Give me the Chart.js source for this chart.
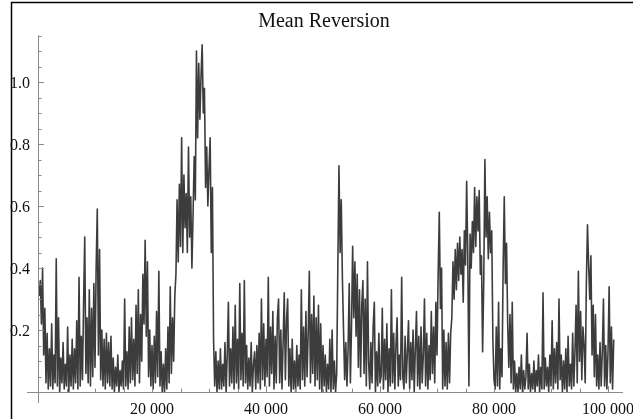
<!DOCTYPE html>
<html>
<head>
<meta charset="utf-8">
<title>Mean Reversion</title>
<script src="https://cdn.jsdelivr.net/npm/chart.js@4.4.0/dist/chart.umd.min.js"></script>
<style>
    html, body { margin: 0; padding: 0; background: #fff; }
    #wrap { position: relative; width: 633px; height: 419px; }
</style>
</head>
<body>
<div id="wrap"><canvas id="mr_chart" width="633" height="419"></canvas></div>
<script>
// sample spacing along the x axis (one value every 200 steps)
var sampleStep = 200;

// values, low / high swings of the series
var meanRev = [
    0.31, 0.36, 0.22, 0.40, 0.12, 0.27, 0.03, 0.19, 0.01, 0.14,
    0.02, 0.22, 0.01, 0.12, 0.03, 0.43, 0.02, 0.24, 0.00, 0.11,
    0.03, 0.16, 0.01, 0.09, 0.02, 0.21, 0.00, 0.12, 0.02, 0.17,
    0.01, 0.14, 0.03, 0.23, 0.01, 0.37, 0.02, 0.18, 0.04, 0.29,
    0.50, 0.06, 0.24, 0.03, 0.33, 0.02, 0.27, 0.05, 0.35, 0.08,
    0.40, 0.59, 0.12, 0.46, 0.04, 0.20, 0.02, 0.17, 0.01, 0.19,
    0.03, 0.16, 0.02, 0.18, 0.01, 0.11, 0.00, 0.08, 0.02, 0.12,
    0.00, 0.07, 0.02, 0.10, 0.01, 0.30, 0.02, 0.13, 0.01, 0.21,
    0.03, 0.24, 0.04, 0.17, 0.02, 0.28, 0.06, 0.33, 0.03, 0.25,
    0.10, 0.38, 0.22, 0.49, 0.18, 0.42, 0.05, 0.20, 0.02, 0.15,
    0.01, 0.18, 0.03, 0.26, 0.05, 0.39, 0.02, 0.13, 0.00, 0.09,
    0.00, 0.14, 0.01, 0.21, 0.03, 0.34, 0.06, 0.24, 0.10, 0.31,
    0.38, 0.62, 0.42, 0.67, 0.47, 0.82, 0.45, 0.70, 0.53, 0.64,
    0.45, 0.79, 0.50, 0.63, 0.40, 0.57, 0.76, 0.62, 1.10, 0.82,
    1.06, 0.88, 1.02, 1.12, 0.90, 0.98, 0.66, 0.79, 0.60, 0.72,
    0.82, 0.45, 0.66, 0.17, 0.02, 0.13, 0.00, 0.10, 0.01, 0.14,
    0.01, 0.09, 0.02, 0.16, 0.00, 0.12, 0.29, 0.02, 0.14, 0.03,
    0.21, 0.01, 0.28, 0.03, 0.17, 0.01, 0.35, 0.04, 0.19, 0.02,
    0.36, 0.03, 0.15, 0.01, 0.11, 0.02, 0.16, 0.00, 0.09, 0.13,
    0.01, 0.15, 0.03, 0.19, 0.01, 0.30, 0.04, 0.22, 0.02, 0.17,
    0.05, 0.37, 0.02, 0.21, 0.06, 0.26, 0.01, 0.18, 0.03, 0.24,
    0.30, 0.03, 0.20, 0.01, 0.16, 0.32, 0.04, 0.23, 0.30, 0.02,
    0.14, 0.00, 0.17, 0.01, 0.10, 0.00, 0.15, 0.02, 0.12, 0.01,
    0.33, 0.04, 0.21, 0.02, 0.26, 0.05, 0.19, 0.39, 0.03, 0.25,
    0.06, 0.31, 0.02, 0.24, 0.04, 0.28, 0.01, 0.22, 0.00, 0.15,
    0.02, 0.12, 0.00, 0.09, 0.01, 0.17, 0.00, 0.20, 0.01, 0.10,
    0.00, 0.06, 0.40, 0.73, 0.45, 0.62, 0.37, 0.20, 0.04, 0.16,
    0.02, 0.14, 0.35, 0.03, 0.21, 0.47, 0.24, 0.42, 0.18, 0.38,
    0.08, 0.33, 0.05, 0.28, 0.36, 0.06, 0.30, 0.02, 0.42, 0.10,
    0.01, 0.16, 0.03, 0.21, 0.29, 0.00, 0.13, 0.02, 0.19, 0.03,
    0.05, 0.27, 0.01, 0.17, 0.04, 0.22, 0.00, 0.14, 0.02, 0.33,
    0.03, 0.19, 0.01, 0.15, 0.24, 0.02, 0.12, 0.04, 0.37, 0.05,
    0.01, 0.18, 0.03, 0.13, 0.23, 0.01, 0.16, 0.04, 0.20, 0.00,
    0.14, 0.26, 0.02, 0.18, 0.01, 0.21, 0.03, 0.12, 0.30, 0.02,
    0.19, 0.01, 0.15, 0.04, 0.26, 0.06, 0.21, 0.03, 0.29, 0.12,
    0.38, 0.58, 0.27, 0.40, 0.01, 0.20, 0.02, 0.16, 0.01, 0.19,
    0.03, 0.19, 0.24, 0.42, 0.30, 0.46, 0.33, 0.48, 0.36, 0.50,
    0.38, 0.46, 0.29, 0.52, 0.41, 0.68, 0.44, 0.02, 0.51, 0.40,
    0.55, 0.45, 0.66, 0.47, 0.63, 0.52, 0.65, 0.38, 0.44, 0.13,
    0.36, 0.75, 0.50, 0.63, 0.43, 0.58, 0.45, 0.52, 0.17, 0.04,
    0.01, 0.21, 0.02, 0.29, 0.01, 0.14, 0.05, 0.40, 0.63, 0.35,
    0.48, 0.22, 0.08, 0.25, 0.03, 0.29, 0.01, 0.10, 0.00, 0.06,
    0.00, 0.08, 0.01, 0.12, 0.00, 0.07, 0.01, 0.05, 0.19, 0.01,
    0.09, 0.00, 0.06, 0.01, 0.10, 0.00, 0.07, 0.02, 0.12, 0.00,
    0.08, 0.01, 0.32, 0.01, 0.11, 0.02, 0.08, 0.00, 0.12, 0.02,
    0.23, 0.01, 0.14, 0.03, 0.16, 0.01, 0.30, 0.04, 0.12, 0.00,
    0.10, 0.01, 0.14, 0.00, 0.18, 0.02, 0.09, 0.01, 0.19, 0.02,
    0.13, 0.28, 0.03, 0.39, 0.10, 0.26, 0.04, 0.21, 0.15, 0.03,
    0.35, 0.54, 0.41, 0.30, 0.44, 0.12, 0.28, 0.05, 0.25, 0.02,
    0.12, 0.01, 0.16, 0.02, 0.13, 0.30, 0.02, 0.15, 0.01, 0.13,
    0.34, 0.03, 0.21, 0.01, 0.17
];

// axis ticks
var xTicks = [20000, 40000, 60000, 80000, 100000];
var xTickLabels = ['20 000', '40 000', '60 000', '80 000', '100 000'];
var xMinorTicks = [5000, 10000, 15000, 25000, 30000, 35000, 45000, 50000, 55000,
    65000, 70000, 75000, 85000, 90000, 95000];
var yTicks = [0.2, 0.4, 0.6, 0.8, 1.0];
var yTickLabels = ['0.2', '0.4', '0.6', '0.8', '1.0'];
var yMinorTicks = [0.05, 0.1, 0.15, 0.25, 0.3, 0.35, 0.45, 0.5, 0.55, 0.65, 0.7,
    0.75, 0.85, 0.9, 0.95, 1.05, 1.1, 1.15];

var chartTitle = 'Mean Reversion';

var points = meanRev.map(function (v, i) {
    return { x: (i + 1) * sampleStep, y: v };
});

// mathematica style axes: crossing at origin, ticks pointing inward
var mathAxes = {
    id: 'mathAxes',
    afterDraw: function (chart) {
        var ctx = chart.ctx;
        var xs = chart.scales.x;
        var ys = chart.scales.y;
        var area = chart.chartArea;
        var x0 = xs.getPixelForValue(0);
        var y0 = ys.getPixelForValue(0);

        ctx.save();
        ctx.strokeStyle = '#8a8a8a';
        ctx.lineWidth = 1;
        ctx.beginPath();
        ctx.moveTo(area.left, Math.round(y0) + 0.5);
        ctx.lineTo(area.right, Math.round(y0) + 0.5);
        ctx.moveTo(Math.round(x0) + 0.5, area.top);
        ctx.lineTo(Math.round(x0) + 0.5, area.bottom);

        xTicks.forEach(function (t) {
            var px = Math.round(xs.getPixelForValue(t)) + 0.5;
            ctx.moveTo(px, y0);
            ctx.lineTo(px, y0 - 6);
        });
        xMinorTicks.forEach(function (t) {
            var px = Math.round(xs.getPixelForValue(t)) + 0.5;
            ctx.moveTo(px, y0);
            ctx.lineTo(px, y0 - 3.5);
        });
        yTicks.forEach(function (t) {
            var py = Math.round(ys.getPixelForValue(t)) + 0.5;
            ctx.moveTo(x0, py);
            ctx.lineTo(x0 + 6, py);
        });
        yMinorTicks.forEach(function (t) {
            var py = Math.round(ys.getPixelForValue(t)) + 0.5;
            ctx.moveTo(x0, py);
            ctx.lineTo(x0 + 3.5, py);
        });
        ctx.stroke();

        ctx.fillStyle = '#111';
        ctx.font = '16px "Liberation Serif", "Times New Roman", serif';
        ctx.textBaseline = 'alphabetic';
        ctx.textAlign = 'center';
        xTicks.forEach(function (t, i) {
            ctx.fillText(xTickLabels[i], xs.getPixelForValue(t), y0 + 22);
        });
        ctx.textAlign = 'right';
        yTicks.forEach(function (t, i) {
            ctx.fillText(yTickLabels[i], x0 - 8, ys.getPixelForValue(t) + 5.5);
        });

        // title
        ctx.font = '20px "Liberation Serif", "Times New Roman", serif';
        ctx.textAlign = 'center';
        ctx.fillText(chartTitle, 324, 27);

        // frame of the picture (left and top edges)
        ctx.strokeStyle = '#000';
        ctx.lineWidth = 1.5;
        ctx.beginPath();
        ctx.moveTo(11.5, 419);
        ctx.lineTo(11.5, 2.5);
        ctx.lineTo(633, 2.5);
        ctx.stroke();
        ctx.restore();
    }
};

var mr_chart = new Chart(document.getElementById('mr_chart'), {
    type: 'line',
    data: {
        datasets: [{
            label: chartTitle,
            data: points,
            borderColor: 'rgba(50,50,50,0.95)',
            borderWidth: 1.6,
            borderJoinStyle: 'round',
            pointRadius: 0,
            tension: 0,
            fill: false
        }]
    },
    plugins: [mathAxes],
    options: {
        responsive: false,
        animation: false,
        layout: {
            padding: { left: 27, right: 10, top: 35.5, bottom: 16 }
        },
        plugins: {
            legend: { display: false },
            tooltip: { enabled: false },
            title: { display: false }
        },
        scales: {
            x: {
                type: 'linear',
                min: -1930,
                max: 102630,
                display: false
            },
            y: {
                type: 'linear',
                min: -0.035,
                max: 1.15,
                display: false
            }
        }
    }
});
</script>
</body>
</html>
